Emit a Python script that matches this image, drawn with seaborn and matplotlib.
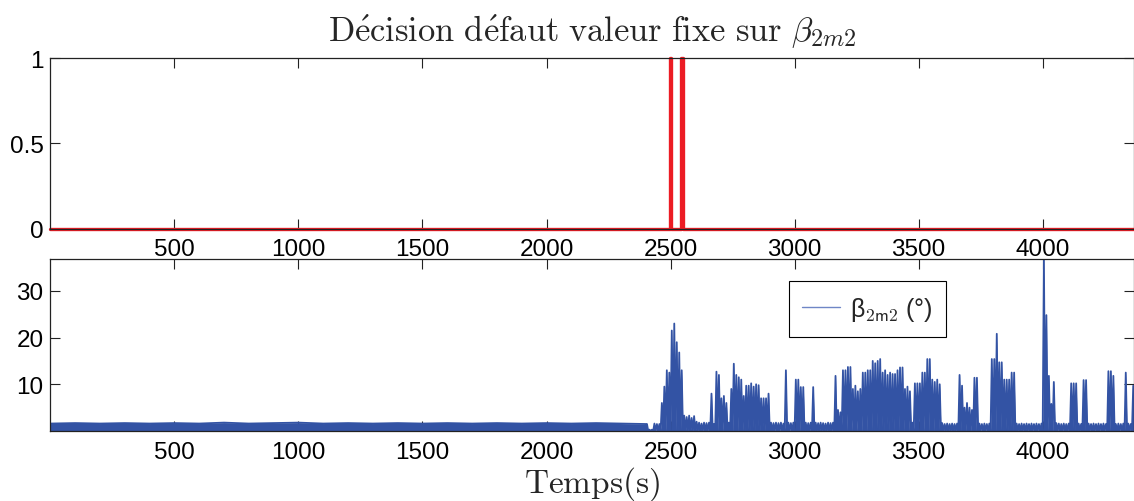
import numpy as np
import pandas as pd
import seaborn as sns
from matplotlib import pyplot as plt

sns.set_theme(style="white")
plt.rcParams["font.family"] = ["Liberation Sans", "DejaVu Sans"]
plt.rcParams["mathtext.fontset"] = "cm"

RED = "#EC1C24"
BLUE = "#3353A4"

# decision signal: time of each change (s) and the level held after it
decision_t = [0, 2499, 2503, 2541, 2551, 4370]
decision_v = [0, 1, 0, 1, 0, 0]

# beta_2m2 before the fault: top of the noise band, every 100 s
base_t = np.arange(0, 2500, 100)
base_hi = [1.6, 1.7, 1.6, 1.7, 1.6, 1.7, 1.6, 1.8, 1.6, 1.7,
           1.8, 1.6, 1.7, 1.6, 1.7, 1.6, 1.7, 1.6, 1.7, 1.6,
           1.7, 1.6, 1.7, 1.6, 1.5]

# beta_2m2 from 2400 s on: peak value in each 10 s bin (signal drops to ~0 in between)
burst_t0 = 2400
burst_hi = [
    1.5, 0.3, 0.3, 1.6, 1.5, 1.5, 6.0, 9.5, 13.0, 12.5,
    21.5, 23.0, 19.0, 16.8, 13.0, 3.3, 3.0, 3.3, 2.8, 3.2,
    2.0, 1.8, 1.6, 1.8, 1.7, 1.8, 8.0, 1.5, 12.7, 12.0,
    7.0, 7.5, 6.0, 1.8, 9.0, 14.4, 12.0, 11.5, 11.0, 7.5,
    9.7, 9.7, 10.2, 9.5, 10.0, 9.8, 7.0, 7.0, 7.0, 8.0,
    1.8, 1.7, 1.8, 1.7, 1.8, 1.6, 13.0, 1.8, 1.7, 1.8,
    11.0, 11.0, 9.4, 9.4, 1.8, 1.7, 1.8, 9.4, 1.8, 1.7,
    1.8, 1.7, 1.6, 1.8, 1.7, 1.8, 11.8, 4.5, 4.0, 13.0,
    13.0, 13.7, 13.7, 9.0, 9.7, 8.5, 9.0, 12.5, 12.5, 13.0,
    13.0, 15.0, 14.5, 15.0, 15.4, 12.5, 13.0, 12.0, 12.5, 12.2,
    12.2, 13.0, 13.6, 13.6, 9.0, 9.5, 8.5, 1.8, 10.2, 10.2,
    10.2, 12.5, 12.5, 15.4, 15.4, 11.0, 10.5, 11.0, 10.0, 1.7,
    1.5, 1.6, 1.5, 1.6, 1.5, 1.6, 12.0, 9.7, 5.0, 6.0,
    5.0, 4.5, 11.4, 11.4, 1.6, 1.5, 1.6, 1.5, 1.6, 15.4,
    15.4, 20.8, 14.7, 14.7, 11.0, 11.0, 11.0, 12.5, 12.5, 1.6,
    1.5, 1.6, 1.5, 1.6, 1.5, 1.6, 1.5, 1.6, 1.5, 1.6,
    36.8, 24.8, 11.8, 5.8, 10.5, 1.7, 1.6, 1.5, 1.6, 1.5,
    1.6, 10.2, 10.2, 10.2, 1.6, 1.5, 10.9, 10.9, 1.6, 1.5,
    1.6, 1.5, 1.6, 1.5, 1.6, 1.5, 12.8, 12.8, 11.8, 1.5,
    1.6, 1.5, 1.6, 12.5, 1.6, 1.5, 9.7,
]

X_MAX = 4370
Y2_MAX = 36.8

# build the trace: band top before 2400 s, then floor/peak per bin
zig_t, zig_v = list(base_t), list(base_hi)
for i, hi in enumerate(burst_hi):
    t = burst_t0 + 10 * i
    zig_t += [t, t + 5]
    zig_v += [0.0, hi]
zig_t.append(burst_t0 + 10 * len(burst_hi))
zig_v.append(0.0)
beta_df = pd.DataFrame({"t": zig_t, "beta": zig_v})
dec_df = pd.DataFrame({"t": decision_t, "d": decision_v})

fig = plt.figure(figsize=(11.34, 5.02), dpi=100)
ax1 = fig.add_axes([0.0444, 0.5428, 0.9560, 0.3396])
ax2 = fig.add_axes([0.0444, 0.1394, 0.9560, 0.3426])

sns.lineplot(data=dec_df, x="t", y="d", ax=ax1, color=RED, lw=2.4,
             drawstyle="steps-post", estimator=None, sort=False,
             legend=False, clip_on=False)

ax2.fill_between(beta_df["t"], 0, beta_df["beta"], color=BLUE, lw=0)
sns.lineplot(data=beta_df, x="t", y="beta", ax=ax2, color=BLUE, lw=1.3,
             estimator=None, sort=False, label=r"β$_{\mathsf{2m2}}$ (°)")

xticks = [500, 1000, 1500, 2000, 2500, 3000, 3500, 4000]
for ax in (ax1, ax2):
    ax.set_xlim(0, X_MAX)
    ax.set_xticks(xticks)
    ax.set_xlabel("")
    ax.set_ylabel("")
    ax.tick_params(direction="in", length=7, width=0.8, top=True, right=True,
                   bottom=True, left=True, labelsize=17.5, labelcolor="black",
                   color="#222222")
    ax.tick_params(axis="x", pad=7)
    ax.tick_params(axis="y", pad=5)
    for s in ax.spines.values():
        s.set_color("#222222")
        s.set_linewidth(0.9)

ax1.set_ylim(0, 1)
ax1.set_yticks([0, 0.5, 1], ["0", "0.5", "1"])
ax2.set_ylim(0, Y2_MAX)
ax2.set_yticks([10, 20, 30])

ax1.set_title(r"$\mathrm{D\acute{e}cision\ d\acute{e}faut\ valeur\ fixe\ sur}\ \beta_{2m2}$",
              fontsize=24.8, pad=13)
ax2.set_xlabel(r"$\mathrm{Temps(s)}$", fontsize=24, labelpad=1)

leg = ax2.legend(loc="upper left", bbox_to_anchor=(0.681, 0.872), borderaxespad=0,
                 frameon=True, fancybox=False, edgecolor="black", framealpha=1,
                 fontsize=18, handlelength=1.5, handletextpad=0.4,
                 borderpad=0.55)
leg.get_frame().set_linewidth(0.8)
for h in leg.get_lines():
    h.set_linewidth(1.0)
    h.set_color("#6F86C6")

fig.savefig("out.png", dpi=100)
